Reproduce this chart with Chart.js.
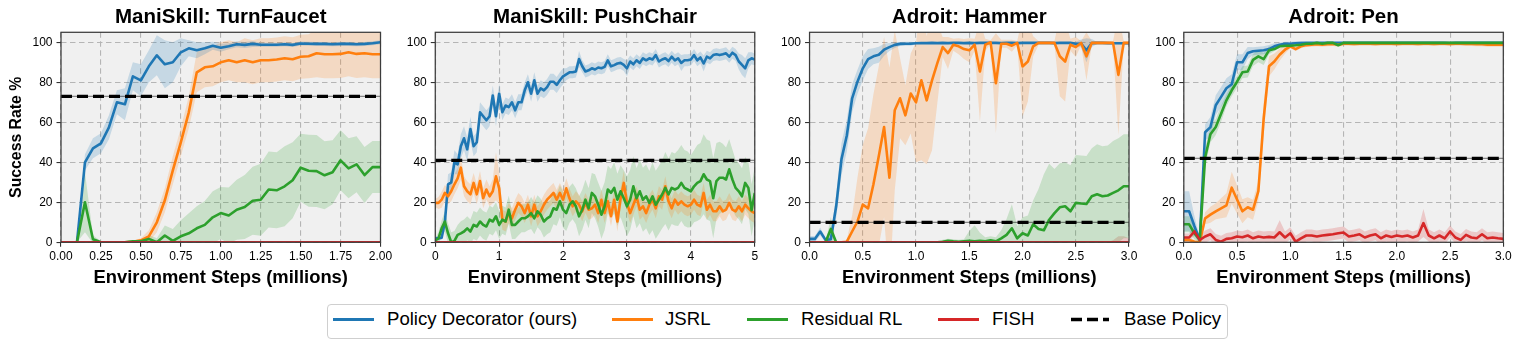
<!DOCTYPE html>
<html>
<head>
<meta charset="utf-8">
<script src="https://cdn.jsdelivr.net/npm/chart.js@4/dist/chart.umd.min.js"></script>
<style>
  body { margin: 0; background: #fff; width: 1522px; height: 347px; position: relative; overflow: hidden;
         font-family: "Liberation Sans", Arial, Helvetica, sans-serif; }
  canvas { position: absolute; top: 0; }
  #legendBox { position: absolute; left: 327px; top: 304px; width: 899px; height: 33px;
               border: 1px solid #cfcfcf; border-radius: 4px; background: #fff; }
  .sw { position: absolute; top: 318px; height: 3px; }
  .lt { position: absolute; top: 308px; font-size: 18.6px; line-height: 22px; color: #000; white-space: nowrap; }
</style>
</head>
<body>
<canvas id="faucet"></canvas>
<canvas id="chair"></canvas>
<canvas id="hammer"></canvas>
<canvas id="pen"></canvas>

<div id="legendBox"></div>
<div class="sw" style="left:333px;width:41px;background:#1f77b4"></div>
<div class="lt" style="left:387px">Policy Decorator (ours)</div>
<div class="sw" style="left:612px;width:41px;background:#ff7f0e"></div>
<div class="lt" style="left:665px">JSRL</div>
<div class="sw" style="left:747px;width:41px;background:#2ca02c"></div>
<div class="lt" style="left:801px">Residual RL</div>
<div class="sw" style="left:938px;width:41px;background:#d62728"></div>
<div class="lt" style="left:992px">FISH</div>
<svg style="position:absolute;left:1071px;top:316px" width="38" height="7">
  <line x1="0" y1="3.5" x2="38" y2="3.5" stroke="#000" stroke-width="3.4" stroke-dasharray="11 5"/>
</svg>
<div class="lt" style="left:1124px">Base Policy</div>

<script>
// --- DATA ---
const yTicks = [0, 20, 40, 60, 80, 100];

// TurnFaucet, sampled every 0.05M steps (0 .. 2.0)
const faucetSteps = Array.from({length: 41}, (_, i) => +(i * 0.05).toFixed(2));
const faucetTicks = [0, 0.25, 0.5, 0.75, 1, 1.25, 1.5, 1.75, 2];
const faucetBase = 73;
const faucetPD = [0,0,0,40,47,49.5,57.5,70,69,83, 81,88,93.5,89,90,95,97,96,97,98.3, 97.3,98,99,98.7,99.2,98.8,98.8,98.8,99,98.7, 99.4,99.3,99.2,99.2,99,99.2,99.2,99,99.2,99.5, 100];
const faucetPDsd = [0.5,0.5,0.5,4,5,5,6,6,8,7, 8,8,10,12,10,7,4,4,3,2, 2,1.5,1.5,1.5,1.5,1,1,1,1,1, 1,1,1,1,1,1,1,1,1,1, 1];
const faucetJSRL = [0,0,0,0,0,0,0,0,0,0.3, 1,3,10,21,36,50,65,85,87.5,88, 90,91,90,91,90,91,91,91.4,92,91.5, 92.8,93,94.5,94,94,94.2,95,94.2,94.5,94, 94];
const faucetJSRLsd = [0,0,0,0,0,0,0,0,0,0.5, 1,3,5,6,7,7,8,10,10,10, 10,10,10,11,11,11,11,11,11,11, 11,11,12,12,12,12,12,12,12,12, 12];
const faucetRes = [0,0,0,20,1.5,0,0,0,0,0.5, 0.5,1.7,0,3.4,0.7,3,4.5,7,8.7,12.5, 14.6,13.4,16.3,17.6,20.8,21.3,26.4,26,28,31, 37.3,35.8,35.6,33.5,35,41,37,39,33.6,37.6, 37.6];
const faucetRessd = [0,0,0,15,2,0.5,0.5,0.5,0.5,0.5, 0.5,2,2,5,6,8,10,11,12,13, 13,14,15,16,17,18,19,19,20,19, 17,18,18,17,16,15,15,14,14,13, 13];
const faucetFISH = [0,0,0,0,0,0,0,0,0,0, 0,0,0,0,0,0,0,0,0,0, 0,0,0,0,0,0,0,0,0,0, 0,0,0,0,0,0,0,0,0,0, 0];
const faucetFISHsd = [0,0,0,0,0,0,0,0,0,0, 0,0,0,0,0,0,0,0,0,0, 0,0,0,0,0,0,0,0,0,0, 0,0,0,0,0,0,0,0,0,0, 0];

// PushChair, sampled every 0.05M steps (0 .. 5.0)
const chairSteps = Array.from({length: 101}, (_, i) => +(i * 0.05).toFixed(2));
const chairTicks = [0, 1, 2, 3, 4, 5];
const chairBase = 41;
const chairPD = [2,2,2.3,10,29,30,40,39,48,52, 46.5,56.6,48,50,65,63,61,63,73.4,63,
  74.3,65,68.4,67.6,70,66,70,70,76,80, 74.3,81,74.3,77,76,77.6,80.3,80.3,78.7,81,
  83,84,85,85,85.4,91.6,88,85.4,86,87, 86.4,87.4,87,87.7,91,88,88.6,89.4,89.7,88.7,
  87,90.4,89,91,89.7,92,91,92,91.4,93.6, 90.4,91.4,92,90.6,92.8,91,92,89.7,91,91,
  91.4,93.6,91,92.4,89.4,92.8,92,93.6,94,93.6, 94,94.5,92.8,94.8,93.6,90.4,88.7,87,91,92, 91.4];
const chairPDsd = [1,1,1,3,5,5,6,5,6,6, 6,6,5,5,5,5,5,5,5,5, 5,4,4,4,4,4,4,4,4,4, 4,4,4,4,4,4,4,4,4,4,
  4,3,3,3,3,4,3,3,3,3, 3,3,3,3,3,3,3,3,3,3, 4,3,3,3,3,3,3,3,3,3, 3,3,3,3,3,3,3,4,3,3,
  3,3,3,3,4,3,3,3,3,3, 3,3,3,3,3,4,5,5,4,3, 3];
const chairJSRL = [19.7,19.7,21.3,24.7,23,25.5,29,32,37.3,28, 25.5,24,29.7,24,30.6,22,26.4,23,25.5,33,
  27,11.3,10.4,14.6,12,16.3,19.7,18,14.6,18.8, 13,18.8,13,15.5,18.8,21.3,23,24.7,21.3,24.7,
  21.3,27,22,18,20.5,18.8,15.5,19.7,16.3,17, 18.8,14.6,21.3,14.6,20.5,13,21.3,10.4,22,29.7,
  19.7,14.6,18.8,23,16.3,18,14.6,18.8,21.3,17, 23,21.3,28,20.5,17,21.3,18.8,20.5,18.8,18,
  18.8,21.3,18.8,18,24.7,16.3,18.8,15.5,15.5,18, 15.5,16.3,19.7,16.3,15.5,18,15.5,18.8,17,15.5, 14.6];
const chairJSRLsd = [2,3,4,4,4,5,5,5,6,5, 5,5,5,5,5,5,5,5,6,12, 8,5,5,5,5,5,5,5,5,5, 5,5,5,5,5,5,5,5,5,5,
  5,5,5,5,5,5,5,5,5,5, 5,5,5,5,5,5,5,5,5,6, 5,5,5,5,5,5,5,5,5,5, 5,5,5,5,5,5,5,5,5,5,
  5,5,5,5,5,5,5,5,5,5, 5,5,5,5,5,5,5,5,5,5, 5];
const chairRes = [1,2,7,10.4,4.5,0,0.7,3.7,4.5,5.4, 7,5.4,8.7,7.9,10.4,8.7,7.9,11.3,10.4,13,
  8.7,11.3,10.4,16.3,8.7,8.7,10.4,12,12,13, 14.6,12,15.5,13.8,10.4,12,13,17,16.3,20.5,
  16.3,14.6,18.8,20.5,18,13,16.3,21.3,17,24.7, 23,18.8,13.8,18,26.4,24.7,27.2,21.3,25.5,22,
  18,21.3,28,22,25.5,21.3,23,19.7,23,18.8, 21.3,23.9,27.2,23.9,27.2,26.4,27.2,29.7,27.2,26.4,
  25.5,28,29.7,30.6,34,31.4,30.6,22,30.6,32.3, 32.3,31.4,36.5,31.4,27.2,25.5,23,29.7,27.2,16, 24.7];
const chairRessd = [1,3,4,5,5,5,5,5,6,6, 6,6,7,7,7,7,7,7,7,7, 7,7,7,7,7,7,7,7,7,7, 8,8,8,8,8,8,8,8,8,8,
  9,9,9,9,9,10,10,10,10,10, 11,11,12,12,12,12,13,13,13,14, 15,15,15,15,16,16,16,16,17,17,
  17,17,18,18,18,18,19,19,19,19, 18,18,19,19,20,20,20,20,19,18, 17,16,15,15,14,14,14,13,13,13, 13];
const chairFISH = [0,0,0,0,0,0,0,0,0,0, 0,0,0,0,0,0,0,0,0,0, 0,0,0,0,0,0,0,0,0,0, 0,0,0,0,0,0,0,0,0,0,
  0,0,0,0,0,0,0,0,0,0, 0,0,0,0,0,0,0,0,0,0, 0,0,0,0,0,0,0,0,0,0, 0,0,0,0,0,0,0,0,0,0,
  0,0,0,0,0,0,0,0,0,0, 0,0,0,0,0,0,0,0,0,0, 0];
const chairFISHsd = chairFISH.map(() => 0);

// Hammer, sampled every 0.05M steps (0 .. 3.0)
const hammerSteps = Array.from({length: 61}, (_, i) => +(i * 0.05).toFixed(2));
const adroitTicks = [0, 0.5, 1, 1.5, 2, 2.5, 3];
const hammerBase = 10;
const hammerPD = [1.7,1.7,5.4,1.2,1.5,18,41.6,53.4,72,80.3, 87,91.6,93,93.8,96.3,97.6,98.7,99.2,99.3,99.3,
  99.5,99.6,99.6,99.7,99.6,99.7,99.6,99.7,99.7,99.6, 99.7,99.6,99.7,99.7,99.7,99.7,99.6,99.7,99.7,99.6,
  99.7,99.7,99.7,99.7,99.7,99.7,99.6,99.7,99.7,99.7, 99.3,99.4,96,99.6,99.7,99.7,99.6,99.5,99.5,99.5, 99.5];
const hammerPDsd = [1.5,1.5,2,1,1.5,6,8,8,7,6, 6,5,4,4,3,2,1.5,1,1,1, 0.5,0.5,0.5,0.5,0.5,0.5,0.5,0.5,0.5,0.5,
  0.5,0.5,0.5,0.5,0.5,0.5,0.5,0.5,0.5,0.5, 0.5,0.5,0.5,0.5,0.5,0.5,0.5,0.5,0.5,0.5, 1,2,6,2,0.5,0.5,0.5,0.5,0.5,0.5, 0.5];
const hammerJSRL = [0,0,0,0,0,0,0,0.3,5.4,10.4, 18.8,17,29,43,57.6,32.3,66,72,63.5,74.4,
  70,81,71,81,89.6,97.6,94.6,98.8,98,96.6, 96,98.8,85.4,98.8,100,79.5,99.3,99.3,98.3,99.7,
  87.9,90.4,98,99.7,99.7,99.7,99.7,93,90.4,98.8, 97.6,99.7,93,99.7,99.7,99.7,99.7,99.7,83.7,99.7, 99.7];
const hammerJSRLsd = [0,0,0,0,0,0,0,1,8,22, 30,40,45,45,45,55,40,20,15,20,
  30,40,32,35,20,5,8,3,4,5, 6,3,25,3,1,25,2,2,3,1, 25,20,5,1,1,1,1,20,20,3, 5,1,12,1,1,1,1,1,30,1, 1];
const hammerRes = [0,0,0,0,6.7,0,0,0,0,0, 0,0,0,0,0,0,0,0,0,0, 0,0,0,0,0,0.3,0.8,0.5,0.3,0.5,
  0.7,0.5,0.8,0.5,1,0.5,2,3.7,7,2, 4.5,3.4,9,6.7,6,11.3,14.6,17.5,18,15.5, 19.7,19.4,19.2,23,24,23,23.4,24.7,26,28, 28];
const hammerRessd = [0,0,0,0,6,0,0,0,0,0, 0,0,0,0,0,0,0,0,0,0, 0,0,0,0,0,1,1,1,1,1,
  5,8,4,2,2,2,4,8,12,6, 8,10,12,20,28,28,22,22,22,23, 24,24,24,24,25,25,25,26,26,26, 26];
const hammerFISH = [0,0,0,0,0,0,0,0,0,0, 0,0,0,0,0,0,0,0,0,0, 0,0,0,0,0,0,0,0,0,0,
  0,0,0,0,0,0,0,0,0,0, 0,0,0,0,0,0,0,0,0,0, 0,0,0,0,0,0,0,0,0,0, 0];
const hammerFISHsd = [0,0,0,0,0,0,0,0,0,0, 0,0,0,0,0,0,0,0,0,0, 0,0,0,0,0,0,0,0,0,0,
  0,0,0,0,0,0,0,0,0,0, 0,0,0,0,0,0,0,0,0,0, 0,0,0,0,0,0,0,1,3,3, 2];

// Pen, sampled every 0.05M steps (0 .. 3.0)
const penSteps = hammerSteps;
const penBase = 42;
const penPD = [15.5,15.5,8,1,55,57.6,68.5,72.7,77,79, 90,90,94.6,95.5,95.8,96,96.6,98,98.8,99.3,
  99.3,99.5,99.6,99.7,99.7,99.7,99.7,99.8,99.8,99.7, 99.8,99.8,99.7,99.8,99.8,99.8,99.7,99.8,99.8,99.8,
  99.8,99.8,99.8,99.8,99.8,99.8,99.8,99.8,99.8,99.7, 99.6,99.8,99.8,99.8,99.8,99.8,99.8,99.8,99.8,99.8, 99.8];
const penPDsd = [10,10,5,1,4,5,5,5,5,5, 4,4,3,2,2,2,2,1.5,1,1, 1,1,1,0.5,0.5,0.5,0.5,0.5,0.5,0.5,
  0.5,0.5,0.5,0.5,0.5,0.5,0.5,0.5,0.5,0.5, 0.5,0.5,0.5,0.5,0.5,0.5,0.5,0.5,0.5,0.5, 0.5,0.5,0.5,0.5,0.5,0.5,0.5,0.5,0.5,0.5, 0.5];
const penJSRL = [1.2,1.2,0.3,0,12,13.8,15.5,17,18.5,27.3, 21.4,15.5,17.5,16.3,25.6,62,88,90.4,93.8,96.3,
  98,96.6,98,98.6,98.8,99,98.8,99,99.2,98.8, 99.3,99.3,99.2,99.3,99.3,99.3,99.2,99.3,99.3,99.3,
  99.2,99.3,99.3,99.3,99.2,99.3,99.3,99.2,99.3,99.3, 99.2,99.3,99.3,99.2,99.2,99,99,98.8,98.8,98.8, 98.8];
const penJSRLsd = [1,1,1,0.5,3,4,4,5,6,8, 7,6,5,5,5,8,5,4,3,2, 1,1,1,1,1,1,1,1,1,1,
  1,1,1,1,1,1,1,1,1,1, 1,1,1,1,1,1,1,1,1,1, 1,1,1,1,1,1,1,1,1,1, 1];
const penRes = [9,9,4.5,1.2,42.4,54,57.6,64.3,71,76, 80.3,85,85.4,91.2,93,91.6,96,96.6,98,98.3,
  98.3,98.5,98.8,99.3,99.3,99.7,99.3,99.7,99.7,98.5, 99.7,99.7,99.7,99.7,99.7,99.7,99.7,99.7,99.7,99.7,
  99.7,99.7,99.7,99.7,99.7,99.7,99.7,99.7,99.7,99.7, 99.7,99.7,99.7,99.7,99.7,99.7,99.7,99.7,99.7,99.7, 99.7];
const penRessd = [4,4,3,1,5,4,4,4,3,3, 3,3,3,3,3,3,2,1,1,1, 0.5,0.5,0.5,0.5,0.5,0.5,0.5,0.5,0.5,0.5,
  0.5,0.5,0.5,0.5,0.5,0.5,0.5,0.5,0.5,0.5, 0.5,0.5,0.5,0.5,0.5,0.5,0.5,0.5,0.5,0.5, 0.5,0.5,0.5,0.5,0.5,0.5,0.5,0.5,0.5,0.5, 0.5];
const penFISH = [2.4,2.4,5.4,1.2,2.9,4,1.2,0.3,1.7,2, 2.9,2.5,3.4,2,2.9,2.4,2.7,2.4,5,2.4,
  4.5,0.3,2,3.4,3.4,2.9,3.4,3.7,4,4.5, 4.9,2.9,3.4,4,2.4,3.4,4,2,3.4,2.7,
  3.4,2.9,3.4,2.4,3.4,9.6,3.4,2,3.4,2, 5.4,2.4,1.2,3.7,2.4,2,4,2,2.4,2, 1.7];
const penFISHsd = [2,2,2,2,3,3,3,3,3,3, 3,3,3,3,3,3,3,3,6,3, 3,3,3,3,3,3,3,3,3,3,
  3,3,3,3,3,3,3,3,3,3, 3,3,3,3,3,7,3,3,3,3, 3,3,3,3,3,3,3,3,3,3, 3];

// --- STYLE ---
const COLORS = { pd: '#1f77b4', jsrl: '#ff7f0e', res: '#2ca02c', fish: '#d62728' };
const FILLS = { pd: 'rgba(31,119,180,0.2)', jsrl: 'rgba(255,127,14,0.2)', res: 'rgba(44,160,44,0.2)', fish: 'rgba(214,39,40,0.2)' };
const PLOT_W = 319.5;
const PLOT_LEFTS = [61, 435.27, 809.54, 1183.81];

Chart.defaults.font.family = '"Liberation Sans", Arial, Helvetica, sans-serif';
Chart.defaults.color = '#000';

const framePlugin = {
  id: 'frame',
  beforeDraw(chart) {
    const { ctx, chartArea: a } = chart;
    ctx.save();
    ctx.fillStyle = '#f0f0f0';
    ctx.fillRect(a.left, a.top, a.right - a.left, a.bottom - a.top);
    ctx.restore();
  },
  afterDraw(chart) {
    const { ctx, chartArea: a } = chart;
    ctx.save();
    ctx.strokeStyle = '#3c3c3c';
    ctx.lineWidth = 1.25;
    ctx.strokeRect(a.left, a.top, a.right - a.left, a.bottom - a.top);
    ctx.restore();
  }
};

const pts = (xs, ys) => xs.map((x, i) => ({ x, y: ys[i] }));

function makePanel(p) {
  const canvas = document.getElementById(p.id);
  const start = PLOT_LEFTS[p.idx] - p.yW;
  const cl = Math.floor(start);
  const padL = start - cl;
  const W = Math.ceil(padL + p.yW + PLOT_W + 24);
  const padR = W - (padL + p.yW + PLOT_W);
  canvas.width = W;
  canvas.height = 292;
  canvas.style.left = cl + 'px';

  const datasets = [];
  p.series.forEach((s, k) => {
    datasets.push({ data: s.mean.map((m, i) => ({ x: p.steps[i], y: m + s.sd[i] })),
      borderWidth: 0, pointRadius: 0, fill: false, order: 20 });
    datasets.push({ data: s.mean.map((m, i) => ({ x: p.steps[i], y: m - s.sd[i] })),
      borderWidth: 0, pointRadius: 0, fill: '-1', backgroundColor: FILLS[s.key], order: 20 });
    datasets.push({ data: pts(p.steps, s.mean), borderColor: COLORS[s.key], borderWidth: 2.6,
      pointRadius: 0, fill: false, order: 6 - k, clip: 0, borderJoinStyle: 'round' });
  });
  const baseLine = [{ x: 0, y: p.base }, { x: p.xMax, y: p.base }];
  datasets.push({ data: baseLine, borderColor: 'rgba(0,0,0,0.55)', borderWidth: 1, pointRadius: 0, order: 1, clip: 0 });
  datasets.push({ data: baseLine, borderColor: '#000', borderWidth: 3.2, borderDash: [11, 5], pointRadius: 0, order: 0, clip: 0 });

  new Chart(canvas, {
    type: 'line',
    data: { datasets },
    options: {
      responsive: false,
      animation: false,
      devicePixelRatio: 1,
      layout: { padding: { left: padL, right: padR, top: 0, bottom: 2 } },
      plugins: {
        legend: { display: false },
        tooltip: { enabled: false },
        title: { display: true, text: p.title, fullSize: false, color: '#000',
          font: { size: 20.5, weight: 'bold' }, padding: { top: 5.5, bottom: 2.2 } }
      },
      scales: {
        x: {
          type: 'linear', min: 0, max: p.xMax,
          afterBuildTicks: s => { s.ticks = p.xTicks.map(v => ({ value: v })); },
          afterFit: s => { s.height = 47.7; },
          grid: { color: '#b5b5b5', lineWidth: 1.1, tickColor: '#333', tickWidth: 1.1, tickLength: 4.5 },
          border: { display: false, dash: [5.5, 3.5] },
          ticks: { padding: 2.5, font: { size: 12 }, color: '#000', maxRotation: 0, autoSkip: false,
            callback: v => p.fmt(v) },
          title: { display: true, text: 'Environment Steps (millions)', color: '#000',
            font: { size: 18.4, weight: 'bold' }, padding: { top: 0, bottom: 0.7 } }
        },
        y: {
          min: 0, max: 105,
          afterBuildTicks: s => { s.ticks = yTicks.map(v => ({ value: v })); },
          afterFit: s => { s.width = p.yW; },
          grid: { color: '#b5b5b5', lineWidth: 1.1, tickColor: '#333', tickWidth: 1.1, tickLength: 4.5 },
          border: { display: false, dash: [5.5, 3.5] },
          ticks: { padding: 4, font: { size: 12 }, color: '#000', autoSkip: false, callback: v => String(v) },
          title: { display: p.yTitle, text: 'Success Rate %', color: '#000',
            font: { size: 15.8, weight: 'bold' }, padding: { top: 7, bottom: 0 } }
        }
      }
    },
    plugins: [framePlugin]
  });
}

makePanel({
  id: 'faucet', idx: 0, yW: 61, yTitle: true, title: 'ManiSkill: TurnFaucet',
  steps: faucetSteps, xMax: 2, xTicks: faucetTicks, fmt: v => v.toFixed(2), base: faucetBase,
  series: [
    { key: 'pd', mean: faucetPD, sd: faucetPDsd },
    { key: 'jsrl', mean: faucetJSRL, sd: faucetJSRLsd },
    { key: 'res', mean: faucetRes, sd: faucetRessd },
    { key: 'fish', mean: faucetFISH, sd: faucetFISHsd }
  ]
});

makePanel({
  id: 'chair', idx: 1, yW: 50, yTitle: false, title: 'ManiSkill: PushChair',
  steps: chairSteps, xMax: 5, xTicks: chairTicks, fmt: v => String(v), base: chairBase,
  series: [
    { key: 'pd', mean: chairPD, sd: chairPDsd },
    { key: 'jsrl', mean: chairJSRL, sd: chairJSRLsd },
    { key: 'res', mean: chairRes, sd: chairRessd },
    { key: 'fish', mean: chairFISH, sd: chairFISHsd }
  ]
});

makePanel({
  id: 'hammer', idx: 2, yW: 50, yTitle: false, title: 'Adroit: Hammer',
  steps: hammerSteps, xMax: 3, xTicks: adroitTicks, fmt: v => v.toFixed(1), base: hammerBase,
  series: [
    { key: 'pd', mean: hammerPD, sd: hammerPDsd },
    { key: 'jsrl', mean: hammerJSRL, sd: hammerJSRLsd },
    { key: 'res', mean: hammerRes, sd: hammerRessd },
    { key: 'fish', mean: hammerFISH, sd: hammerFISHsd }
  ]
});

makePanel({
  id: 'pen', idx: 3, yW: 50, yTitle: false, title: 'Adroit: Pen',
  steps: penSteps, xMax: 3, xTicks: adroitTicks, fmt: v => v.toFixed(1), base: penBase,
  series: [
    { key: 'pd', mean: penPD, sd: penPDsd },
    { key: 'jsrl', mean: penJSRL, sd: penJSRLsd },
    { key: 'res', mean: penRes, sd: penRessd },
    { key: 'fish', mean: penFISH, sd: penFISHsd }
  ]
});
</script>
</body>
</html>
